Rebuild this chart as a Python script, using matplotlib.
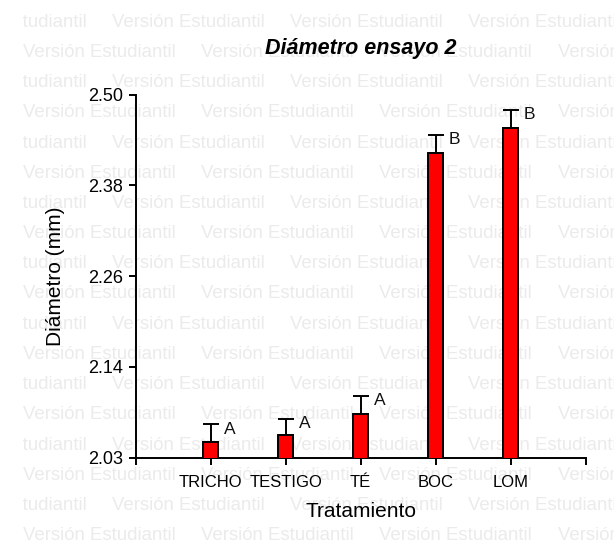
import matplotlib
matplotlib.use("Agg")
import matplotlib.pyplot as plt
import numpy as np

matplotlib.rcParams['font.family'] = ['Liberation Sans', 'DejaVu Sans']

tratamientos = ['TRICHO', 'TESTIGO', 'TÉ', 'BOC', 'LOM']
diametro = [2.050, 2.059, 2.087, 2.424, 2.457]
error = [0.023, 0.021, 0.023, 0.024, 0.023]
letras = ['A', 'A', 'A', 'B', 'B']

y_ticks = [2.03, 2.1475, 2.265, 2.3825, 2.50]
y_tick_labels = ['2.03', '2.14', '2.26', '2.38', '2.50']

W, H = 614, 546
fig = plt.figure(figsize=(W / 100, H / 100), dpi=100)

# watermark background
bg = fig.add_axes([23 / W, 0, 1 - 23 / W, 1])
bg.set_xlim(23, W)
bg.set_ylim(H, 0)
bg.axis('off')
period = 178.2
for k in range(18):
    yb = 26.7 + k * 30.2
    x0 = -66.5 if k % 2 == 0 else 23
    for n in range(5):
        bg.text(x0 + n * period, yb, 'Versión Estudiantil', fontsize=13.4,
                color='#ebebeb', va='baseline', ha='left', clip_on=True)

ax = fig.add_axes([135.7 / W, (H - 457.7) / H, 450 / W, 363 / H])
ax.patch.set_visible(False)

x = np.arange(1, len(tratamientos) + 1)
ax.bar(x, diametro, width=0.2, color='#ff0000', edgecolor='black',
       linewidth=1.4, zorder=3)
ax.errorbar(x, diametro, yerr=[np.zeros(len(error)), error], fmt='none',
            ecolor='black', elinewidth=1.4, capsize=6, capthick=1.4, zorder=2)
for xi, m, e, l in zip(x, diametro, error, letras):
    ax.annotate(l, xy=(xi + 0.1, m + e), xytext=(4, -6.5),
                textcoords='offset points', fontsize=12.5, va='baseline',
                ha='left', color='#111111')

ax.set_xlim(0, 6)
ax.set_ylim(2.03, 2.50)
ax.set_xticks(np.arange(0, 7))
ax.set_xticklabels([''] + tratamientos + [''], fontsize=12)
ax.set_yticks(y_ticks)
ax.set_yticklabels(y_tick_labels, fontsize=13)
for lbl in ax.get_xticklabels():
    lbl.set_va('baseline')
ax.tick_params(axis='x', length=5, width=1.4, pad=16.3)
ax.tick_params(axis='y', length=5.3, width=1.4, pad=3.6)
for s in ['top', 'right']:
    ax.spines[s].set_visible(False)
for s in ['left', 'bottom']:
    ax.spines[s].set_linewidth(1.4)

ax.set_title('Diámetro ensayo 2', fontsize=15.5, fontweight='bold',
             fontstyle='italic', pad=29)
ax.set_xlabel('Tratamiento', fontsize=15, va='baseline')
ax.xaxis.set_label_coords(0.5, (457.7 - 517.3) / 363)
ax.set_ylabel('Diámetro (mm)', fontsize=15, va='center')
ax.yaxis.set_label_coords((55.8 - 135.7) / 450, 0.5)

plt.savefig('out.png', dpi=100)
plt.close()
